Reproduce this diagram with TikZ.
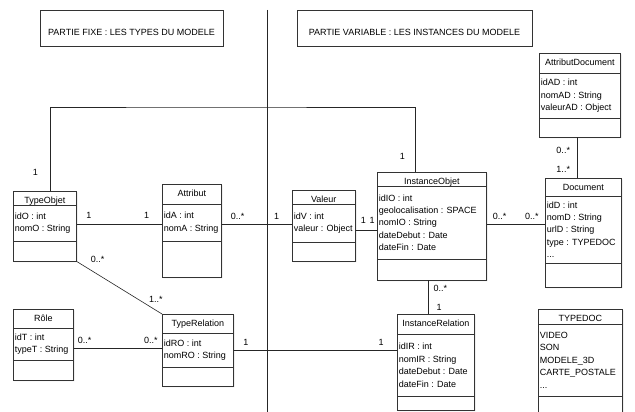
\documentclass[tikz,border=0pt]{standalone}
\usepackage{fontspec}
\setmainfont{Liberation Sans}
\usetikzlibrary{positioning,shapes.multipart,shadows}

% classe UML : largeur, haut. titre, titre, haut. attributs, attributs, haut. vide
\newcommand\classe[6]{%
  \parbox[c][#2pt][t]{#1pt}{\centering\rule{0pt}{12pt}#3}%
  \nodepart{two}\parbox[c][#4pt][c]{#1pt}{\raggedright\leftskip=1.5pt\relax #5}%
  \nodepart{three}\parbox[c][#6pt][c]{#1pt}{}}

\tikzset{
  classe/.style = {draw=black!80, fill=white, line width=0.6pt, rectangle split, rectangle split parts=3,
    inner sep=0pt, anchor=north west,
    drop shadow={shadow xshift=1pt, shadow yshift=-1pt, fill=black!35}},
  titre/.style = {draw=black!80, line width=0.6pt, minimum height=36pt, inner sep=0pt,
    text height=16pt, text depth=1.6pt},
  mult/.style = {inner sep=0pt},
  lien/.style = {draw=black!85, line width=0.6pt}
}

\begin{document}
\begin{tikzpicture}[x=1pt, y=-1pt, font=\fontsize{9}{12.4}\selectfont]
  \path[fill=white, use as bounding box] (0,0) rectangle (635,412);

  \node[titre, minimum width=183pt] (fixe) at (131.5,28) {PARTIE FIXE : LES TYPES DU MODELE};
  \node[titre, minimum width=235pt] (variable) at (414.5,28) {PARTIE VARIABLE : LES INSTANCES DU MODELE};
  \coordinate (sep haut) at (267,10);
  \coordinate (sep bas) at (267,412);
  \draw[lien] (sep haut) -- (sep bas);

  % partie fixe
  \node[classe] (typeobjet) at (13,191) {\classe{63}{13}{TypeObjet}{36}{idO : int\\nomO : String}{19}};
  \node[classe] (attribut) at (162,184) {\classe{59}{19}{Attribut}{37}{idA : int\\nomA : String}{35}};
  \node[classe] (typerelation) at (162,314) {\classe{71}{18}{TypeRelation}{34}{idRO : int\\nomRO : String}{18}};
  \node[classe] (role) at (13,309) {\classe{60}{18}{Rôle}{32}{idT : int\\typeT : String}{19}};

  % partie variable
  \node[classe] (valeur) at (292,190) {\classe{63}{13}{Valeur}{38}{idV : int\\valeur : Object}{18}};
  \node[classe] (instanceobjet) at (377,172) {\classe{109}{13}{InstanceObjet}{73}{idIO : int\\geolocalisation : SPACE\\nomIO : String\\dateDebut : Date\\dateFin : Date}{20}};
  \node[classe] (instancerelation) at (397,314) {\classe{77}{19}{InstanceRelation}{62}{idIR : int\\nomIR : String\\dateDebut : Date\\dateFin : Date}{13}};
  \node[classe] (document) at (545,178) {\classe{76}{17}{Document}{67}{idD : int\\nomD : String\\urlD : String\\type : TYPEDOC\\...}{23}};
  \node[classe] (attributdocument) at (539,53) {\classe{81}{19}{AttributDocument}{45}{idAD : int\\nomAD : String\\valeurAD : Object}{18}};
  \node[classe] (typedoc) at (538,309) {\classe{84}{14}{TYPEDOC}{72}{VIDEO\\SON\\MODELE\_3D\\CARTE\_POSTALE\\...}{19}};

  % liens
  \coordinate (coude) at (200,107);
  \draw[lien] ([xshift=5.5pt]typeobjet.north) node[mult, above left=15pt and 12pt] (m1) {1}
    |- (coude) -| ([xshift=-16.5pt]instanceobjet.north) node[mult, above left=12pt and 10pt] (m2) {1};
  \draw[lien] ([yshift=2pt]typeobjet.east) node[mult, above right=5pt and 9.5pt] (m3) {1}
    -- ([yshift=2pt]typeobjet.east -| attribut.west) node[mult, above left=5pt and 12.5pt] (m4) {1};
  \draw[lien] ([yshift=1.5pt]valeur.west -| attribut.east) node[mult, above right=4pt and 9pt] (m5) {0..*}
    -- ([yshift=1.5pt]valeur.west) node[mult, above left=4pt and 12.5pt] (m6) {1};
  \draw[lien] ([yshift=-4.5pt]valeur.east) node[mult, above right=6pt and 5pt] (m7) {1}
    -- ([yshift=-4.5pt]valeur.east -| instanceobjet.west) node[mult, above left=6pt and 2pt] (m8) {1};
  \draw[lien] ([yshift=2pt]instanceobjet.east) node[mult, above right=4pt and 6pt] (m9) {0..*}
    -- ([yshift=2pt]instanceobjet.east -| document.west) node[mult, above left=4pt and 6pt] (m10) {0..*};
  \draw[lien] ([xshift=-2.5pt]attributdocument.south) node[mult, below left=10pt and 7pt] (m11) {0..*}
    -- ([xshift=-2.5pt]attributdocument.south |- document.north) node[mult, above left=5pt and 7pt] (m12) {1..*};
  \draw[lien] ([xshift=-3.5pt]instanceobjet.south) node[mult, below right=5pt and 5pt] (m13) {0..*}
    -- ([xshift=-3.5pt]instanceobjet.south |- instancerelation.north) node[mult, above right=3pt and 8pt] (m14) {1};
  \draw[lien] (typerelation.east) node[mult, above right=4pt and 9.5pt] (m15) {1}
    -- (typerelation.east -| instancerelation.west) node[mult, above left=4pt and 13pt] (m16) {1};
  \draw[lien] ([yshift=-3.5pt]role.east) node[mult, above right=4pt and 4pt] (m17) {0..*}
    -- ([yshift=-3.5pt]role.east -| typerelation.west) node[mult, above left=4pt and 4pt] (m18) {0..*};
  \draw[lien] (typeobjet.south east) node[mult, above right=-1pt and 14pt] (m19) {0..*}
    -- (typerelation.north west) node[mult, above left=11pt and -1pt] (m20) {1..*};
\end{tikzpicture}
\end{document}
